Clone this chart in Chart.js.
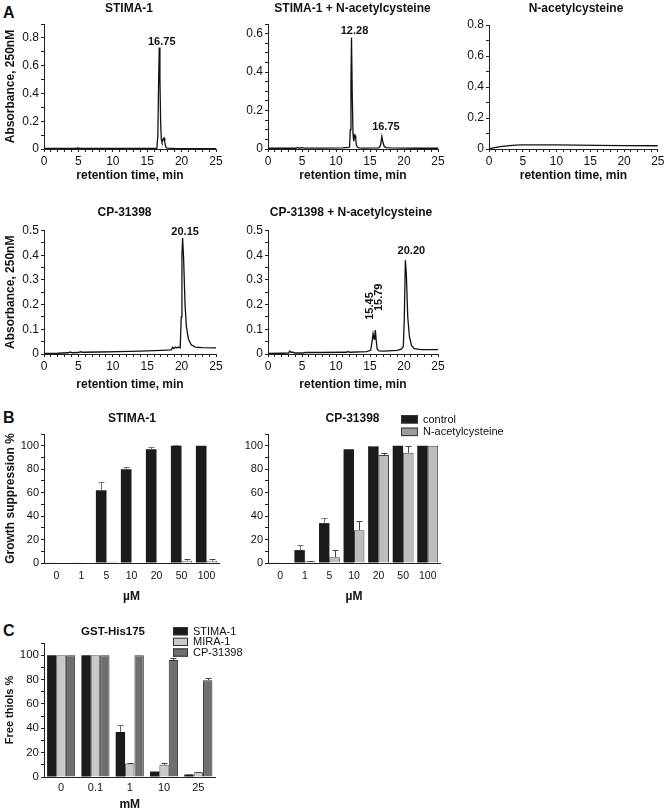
<!DOCTYPE html>
<html>
<head>
<meta charset="utf-8">
<script src="https://cdn.jsdelivr.net/npm/chart.js@4.4.1/dist/chart.umd.min.js"></script>
<style>
html, body { margin: 0; padding: 0; background: #fff; }
#page { position: relative; width: 666px; height: 810px; overflow: hidden; font-family: 'Liberation Sans', Arial, sans-serif; }
#page canvas { position: absolute; }
.letter { position: absolute; font-weight: bold; font-size: 16px; line-height: 16px; color: #111; }
</style>
</head>
<body>
<div id="page">
  <div class="letter" style="left:3px;top:5px">A</div>
  <div class="letter" style="left:3px;top:410px">B</div>
  <div class="letter" style="left:3px;top:623px">C</div>
</div>
<script>
const FONT = "'Liberation Sans', Arial, Helvetica, sans-serif";

// Panel A - chromatograms: retention time (min) and absorbance
const stimaT = [0, 2, 4.6, 4.9, 5.2, 8, 12, 15, 16.4, 16.55, 16.65, 16.75, 16.85, 16.95, 17.05, 17.15, 17.25, 17.35, 17.45, 17.55, 17.7, 17.9, 19, 22, 25];
const stimaA = [0.004, 0.004, 0.004, 0.007, 0.004, 0.004, 0.004, 0.004, 0.005, 0.1, 0.45, 0.73, 0.5, 0.2, 0.07, 0.05, 0.06, 0.075, 0.08, 0.05, 0.015, 0.006, 0.004, 0.003, 0.003];

const stimaNacT = [0, 3, 4.1, 4.3, 4.6, 5.0, 5.3, 8, 11, 11.8, 12.0, 12.1, 12.2, 12.28, 12.38, 12.5, 12.6, 12.7, 12.8, 12.9, 13.0, 13.15, 13.4, 14, 16.3, 16.55, 16.75, 16.9, 17.1, 17.4, 18, 20, 22, 25];
const stimaNacA = [0.004, 0.004, 0.004, 0.008, 0.004, 0.007, 0.005, 0.005, 0.006, 0.008, 0.01, 0.1, 0.35, 0.58, 0.3, 0.08, 0.04, 0.06, 0.07, 0.055, 0.02, 0.01, 0.006, 0.005, 0.006, 0.02, 0.065, 0.035, 0.012, 0.007, 0.006, 0.005, 0.004, 0.004];

const nacT = [0, 0.5, 1, 1.5, 2, 3, 4, 5, 7, 10, 13, 16, 20, 25];
const nacA = [0.0, 0.006, 0.01, 0.014, 0.017, 0.022, 0.025, 0.027, 0.027, 0.026, 0.025, 0.024, 0.022, 0.021];

const cpT = [0, 2, 3.5, 3.8, 4.1, 5, 5.3, 5.7, 8, 11, 14, 17, 18.5, 18.7, 18.9, 19.1, 19.3, 19.5, 19.8, 19.95, 20.05, 20.15, 20.3, 20.5, 20.7, 21.0, 21.4, 22, 23, 25];
const cpA = [0.002, 0.003, 0.005, 0.008, 0.005, 0.006, 0.009, 0.007, 0.008, 0.01, 0.012, 0.015, 0.017, 0.027, 0.022, 0.028, 0.024, 0.028, 0.025, 0.15, 0.4, 0.47, 0.38, 0.2, 0.11, 0.06, 0.037, 0.028, 0.026, 0.025];

const cpNacT = [0, 2, 3.0, 3.2, 3.4, 3.6, 3.9, 4.2, 5.2, 5.5, 8, 11.5, 11.8, 12.1, 14.5, 15.1, 15.3, 15.45, 15.6, 15.7, 15.79, 15.9, 16.05, 16.3, 17, 19, 19.6, 19.9, 20.05, 20.2, 20.35, 20.55, 20.8, 21.1, 21.5, 22.5, 25];
const cpNacA = [0.002, 0.003, 0.004, 0.012, 0.006, 0.008, 0.004, 0.004, 0.004, 0.006, 0.006, 0.007, 0.01, 0.007, 0.01, 0.015, 0.05, 0.082, 0.06, 0.075, 0.097, 0.06, 0.02, 0.013, 0.012, 0.015, 0.02, 0.03, 0.15, 0.38, 0.32, 0.15, 0.07, 0.035, 0.022, 0.018, 0.018];

// peak annotations (retention time, height, text)
const stimaPeakT = [16.75], stimaPeakA = [0.73], stimaPeakTxt = ['16.75'];
const stimaNacPeakT = [12.28, 16.75], stimaNacPeakA = [0.58, 0.065], stimaNacPeakTxt = ['12.28', '16.75'];
const cpPeakT = [20.15], cpPeakA = [0.47], cpPeakTxt = ['20.15'];
const cpNacPeakT = [15.45, 15.79, 20.2], cpNacPeakA = [0.082, 0.097, 0.38], cpNacPeakTxt = ['15.45', '15.79', '20.20'];

// tick labels
const timeTicks = [0, 5, 10, 15, 20, 25];
const absTicks08 = [0, 0.2, 0.4, 0.6, 0.8];
const absTicks06 = [0, 0.2, 0.4, 0.6];
const absTicks05 = [0, 0.1, 0.2, 0.3, 0.4, 0.5];
const pctTicks = [0, 20, 40, 60, 80, 100];

// Panel B - growth suppression %
const doseLabels = ['0', '1', '5', '10', '20', '50', '100'];
const seriesB = ['control', 'N-acetylcysteine'];
const stimaCtrl = [0.5, 0.5, 62, 80, 97, 100, 100];
const stimaCtrlErr = [0, 0, 7, 1.5, 1.5, 0.5, 0];
const stimaNac = [0.5, 0.5, 1, 0.5, 0.5, 2, 2];
const stimaNacErr = [0, 0, 0, 0, 0, 1, 1.5];
const cpCtrl = [0.5, 11, 34, 97, 99.5, 100, 100];
const cpCtrlErr = [0, 4, 4, 0, 0.5, 0, 0];
const cpNac = [0.5, 1.5, 5, 28, 92, 94, 100];
const cpNacErr = [0, 0.5, 6, 7.5, 2, 6, 0];

// Panel C - free thiols %
const thiolLabels = ['0', '0.1', '1', '10', '25'];
const seriesC = ['STIMA-1', 'MIRA-1', 'CP-31398'];
const thiolStima = [100, 100, 37, 4.5, 2];
const thiolStimaErr = [0, 0, 5.5, 0, 0.5];
const thiolMira = [100, 100, 11, 10, 4];
const thiolMiraErr = [0, 0, 0.5, 1.5, 0.5];
const thiolCp = [100, 100, 100, 96, 79.5];
const thiolCpErr = [0, 0, 0, 2, 2];

Chart.defaults.font.family = FONT;
Chart.defaults.color = '#111';

// error bars for bar datasets that carry an "errors" array
Chart.register({
  id: 'errorBars',
  afterDatasetsDraw(chart) {
    const ctx = chart.ctx;
    const ys = chart.scales.y;
    chart.data.datasets.forEach((ds, i) => {
      if (!ds.errors) return;
      chart.getDatasetMeta(i).data.forEach((bar, j) => {
        const e = ds.errors[j];
        if (!e) return;
        const x = Math.round(bar.x) + 0.5;
        const top = Math.round(ys.getPixelForValue(ds.data[j] + e)) + 0.5;
        ctx.save();
        ctx.strokeStyle = ds.errColor;
        ctx.lineWidth = 1;
        ctx.beginPath();
        ctx.moveTo(x, bar.y);
        ctx.lineTo(x, top);
        ctx.moveTo(x - 3, top);
        ctx.lineTo(x + 3, top);
        ctx.stroke();
        ctx.restore();
      });
    });
  }
});

function titlePlugin(box, text, cx, cy, size) {
  return {
    id: 'panelTitle',
    afterDraw(chart) {
      const ctx = chart.ctx;
      ctx.save();
      ctx.font = 'bold ' + size + 'px ' + FONT;
      ctx.fillStyle = '#111';
      ctx.textAlign = 'center';
      ctx.textBaseline = 'middle';
      ctx.fillText(text, cx - box.l, cy - box.t);
      ctx.restore();
    }
  };
}

function peakPlugin(times, heights, texts, dx, dy, rot) {
  return {
    id: 'peaks',
    afterDatasetsDraw(chart) {
      const xs = chart.scales.x, ys = chart.scales.y, ctx = chart.ctx;
      ctx.save();
      ctx.font = 'bold 11px ' + FONT;
      ctx.fillStyle = '#111';
      times.forEach((t, k) => {
        const px = xs.getPixelForValue(t) + dx[k];
        const py = ys.getPixelForValue(heights[k]) - dy[k];
        if (rot && rot[k]) {
          ctx.save();
          ctx.translate(px, py);
          ctx.rotate(-Math.PI / 2);
          ctx.textAlign = 'left';
          ctx.textBaseline = 'middle';
          ctx.fillText(texts[k], 0, 0);
          ctx.restore();
        } else {
          ctx.textAlign = 'center';
          ctx.textBaseline = 'alphabetic';
          ctx.fillText(texts[k], px, py);
        }
      });
      ctx.restore();
    }
  };
}

function legendPlugin(box, lx, ly, boxW, boxH, rowH, size) {
  return {
    id: 'boxLegend',
    afterDraw(chart) {
      const ctx = chart.ctx;
      ctx.save();
      chart.data.datasets.forEach((ds, i) => {
        const x = lx - box.l, y = ly - box.t + i * rowH;
        ctx.fillStyle = ds.legendColor || ds.backgroundColor;
        ctx.fillRect(x, y, boxW, boxH);
        ctx.strokeStyle = '#333';
        ctx.lineWidth = 1;
        ctx.strokeRect(x + 0.5, y + 0.5, boxW - 1, boxH - 1);
        ctx.fillStyle = '#111';
        ctx.font = size + 'px ' + FONT;
        ctx.textAlign = 'left';
        ctx.textBaseline = 'middle';
        ctx.fillText(ds.label, x + boxW + 5, y + boxH / 2 + 0.5);
      });
      ctx.restore();
    }
  };
}

function fmt(v) { return String(Math.round(v * 100) / 100); }
function isLabel(list, v) { return list.some(l => Math.abs(l - v) < 1e-6); }

// minor tick marks every `minor`, text only on values listed in `labels`
function yAxis(max, minor, labels, size, title, titleSize) {
  return {
    type: 'linear', min: 0, max: max,
    border: { display: true, color: '#222', width: 1 },
    grid: { display: true, drawOnChartArea: false, drawTicks: true, tickLength: 3, color: '#222' },
    afterBuildTicks: s => {
      const t = [];
      for (let k = 0; k * minor <= max + 1e-9; k++) t.push({ value: Math.round(k * minor * 1000) / 1000 });
      s.ticks = t;
    },
    ticks: {
      autoSkip: false, padding: 2, font: { size: size },
      callback: v => isLabel(labels, v) ? fmt(v) : ''
    },
    title: title
      ? { display: true, text: title, font: { size: titleSize || 12, weight: 'bold' }, padding: { top: 3, bottom: 0 } }
      : { display: false }
  };
}

function timeAxis() {
  return {
    type: 'linear', min: 0, max: 25,
    border: { display: true, color: '#222', width: 1 },
    grid: { display: true, drawOnChartArea: false, drawTicks: true, tickLength: 3, color: '#222' },
    afterBuildTicks: s => {
      const t = [];
      for (let k = 0; k <= 25; k++) t.push({ value: k });
      s.ticks = t;
    },
    ticks: {
      autoSkip: false, maxRotation: 0, padding: 2.5, font: { size: 12 },
      callback: v => isLabel(timeTicks, v) ? String(v) : ''
    },
    title: { display: true, text: 'retention time, min', font: { size: 12, weight: 'bold' }, padding: { top: 0, bottom: 1 } }
  };
}

function catAxis(size, pad, title) {
  return {
    type: 'category',
    border: { display: true, color: '#222', width: 1 },
    grid: { display: false, drawTicks: false },
    ticks: { autoSkip: false, maxRotation: 0, padding: pad, font: { size: size } },
    title: { display: true, text: title, font: { size: 12, weight: 'bold' }, padding: { top: 0, bottom: 1 } }
  };
}

const page = document.getElementById('page');

// box: canvas l,t,w,h on the page + plot area pl,pr,pt,pb
function panel(box, cfg, extra) {
  const c = document.createElement('canvas');
  c.width = box.w;
  c.height = box.h;
  c.style.left = box.l + 'px';
  c.style.top = box.t + 'px';
  c.style.width = box.w + 'px';
  c.style.height = box.h + 'px';
  page.appendChild(c);
  const sc = cfg.options.scales;
  sc.y.afterFit = s => { s.width = box.pl - box.l; };
  sc.x.afterFit = s => { s.height = box.t + box.h - box.pb; };
  Object.assign(cfg.options, {
    responsive: false, animation: false, devicePixelRatio: 1,
    layout: { padding: { left: 0, top: box.pt - box.t, right: box.l + box.w - box.pr, bottom: 0 } },
    plugins: { legend: { display: false }, tooltip: { enabled: false }, title: { display: false } }
  });
  cfg.plugins = extra;
  return new Chart(c, cfg);
}

function chrom(box, times, abs, yOpts, title, tx, ty, peaks) {
  return panel(box, {
    type: 'line',
    data: {
      datasets: [{
        data: times.map((t, i) => ({ x: t, y: abs[i] })),
        borderColor: '#111', borderWidth: 1.3, pointRadius: 0, fill: false, tension: 0
      }]
    },
    options: { scales: { x: timeAxis(), y: yOpts } }
  }, [titlePlugin(box, title, tx, ty, 12)].concat(peaks ? [peaks] : []));
}

// ---- Panel A
const absTitle = 'Absorbance, 250nM';
const b1 = { l: 0, t: 0, w: 226, h: 184, pl: 44, pr: 216, pt: 24, pb: 149 };
chrom(b1, stimaT, stimaA, yAxis(0.9, 0.1, absTicks08, 12, absTitle), 'STIMA-1', 129, 9,
  peakPlugin(stimaPeakT, stimaPeakA, stimaPeakTxt, [2.5], [3]));

const b2 = { l: 232, t: 0, w: 216, h: 184, pl: 268, pr: 438, pt: 24, pb: 149 };
chrom(b2, stimaNacT, stimaNacA, yAxis(0.65, 0.05, absTicks06, 12), 'STIMA-1 + N-acetylcysteine', 352.5, 9,
  peakPlugin(stimaNacPeakT, stimaNacPeakA, stimaNacPeakTxt, [3, 4], [3, 6.5]));

const b3 = { l: 455, t: 0, w: 212, h: 184, pl: 489, pr: 660, pt: 25, pb: 149 };
chrom(b3, nacT, nacA, yAxis(0.8, 0.1, absTicks08, 12), 'N-acetylcysteine', 576, 9, null);

const b4 = { l: 0, t: 200, w: 226, h: 193, pl: 44, pr: 216, pt: 230.5, pb: 354 };
chrom(b4, cpT, cpA, yAxis(0.5, 0.05, absTicks05, 12, absTitle), 'CP-31398', 124.5, 212.3,
  peakPlugin(cpPeakT, cpPeakA, cpPeakTxt, [2.5], [3]));

const b5 = { l: 232, t: 200, w: 216, h: 193, pl: 268, pr: 438, pt: 230.5, pb: 354 };
chrom(b5, cpNacT, cpNacA, yAxis(0.5, 0.05, absTicks05, 12), 'CP-31398 + N-acetylcysteine', 351, 212.3,
  peakPlugin(cpNacPeakT, cpNacPeakA, cpNacPeakTxt, [-3.5, 4, 6], [14, 19, 6.5], [true, true, false]));

// ---- Panel B
function growth(box, title, tx, ctrl, ctrlErr, nac, nacErr, yTitle, withLegend) {
  const extra = [titlePlugin(box, title, tx, 419, 12)];
  if (withLegend) extra.push(legendPlugin(box, 401, 415, 17, 8.5, 12.6, 11));
  return panel(box, {
    type: 'bar',
    data: {
      labels: doseLabels,
      datasets: [
        { label: seriesB[0], data: ctrl, errors: ctrlErr, errColor: '#777', backgroundColor: '#1b1b1b', borderWidth: 0, barPercentage: 1, categoryPercentage: 0.85 },
        { label: seriesB[1], data: nac, errors: nacErr, errColor: '#444', backgroundColor: '#bdbdbd', legendColor: '#9c9c9c', borderColor: '#444', borderWidth: 1, barPercentage: 1, categoryPercentage: 0.85 }
      ]
    },
    options: { scales: { x: catAxis(10.5, 6.7, '\u00b5M'), y: yAxis(110, 10, pctTicks, 11, yTitle) } }
  }, extra);
}

growth({ l: 0, t: 405, w: 226, h: 200, pl: 44, pr: 219, pt: 434, pb: 563 }, 'STIMA-1', 132,
  stimaCtrl, stimaCtrlErr, stimaNac, stimaNacErr, 'Growth suppression %', false);
growth({ l: 232, t: 405, w: 280, h: 200, pl: 268, pr: 440, pt: 434, pb: 563 }, 'CP-31398', 352.5,
  cpCtrl, cpCtrlErr, cpNac, cpNacErr, null, true);

// ---- Panel C
const bc = { l: 0, t: 620, w: 270, h: 193, pl: 44, pr: 215.5, pt: 643, pb: 777 };
panel(bc, {
  type: 'bar',
  data: {
    labels: thiolLabels,
    datasets: [
      { label: seriesC[0], data: thiolStima, errors: thiolStimaErr, errColor: '#666', backgroundColor: '#1b1b1b', borderWidth: 0, barPercentage: 1, categoryPercentage: 0.82 },
      { label: seriesC[1], data: thiolMira, errors: thiolMiraErr, errColor: '#444', backgroundColor: '#c9c9c9', borderColor: '#555', borderWidth: 1, barPercentage: 1, categoryPercentage: 0.82 },
      { label: seriesC[2], data: thiolCp, errors: thiolCpErr, errColor: '#444', backgroundColor: '#6f6f6f', borderColor: '#333', borderWidth: 1, barPercentage: 1, categoryPercentage: 0.82 }
    ]
  },
  options: { scales: { x: catAxis(11, 4.4, 'mM'), y: yAxis(110, 10, pctTicks, 11.5, 'Free thiols %', 11) } }
}, [titlePlugin(bc, 'GST-His175', 113, 631.7, 11.5), legendPlugin(bc, 173, 627, 15, 8.3, 10.7, 11)]);
</script>
</body>
</html>
